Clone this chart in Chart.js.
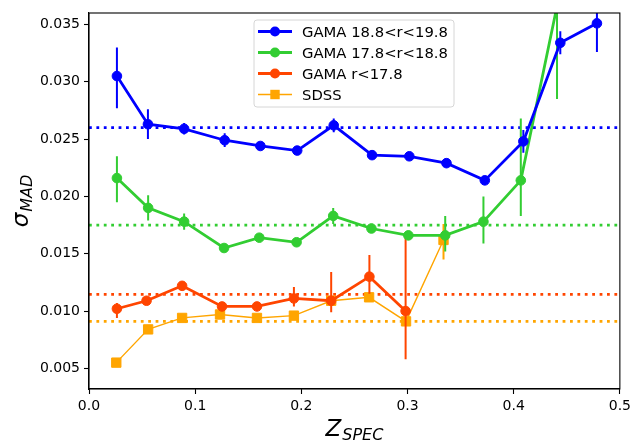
<!DOCTYPE html>
<html>
<head>
<meta charset="utf-8">
<script src="https://cdn.jsdelivr.net/npm/chart.js@4.4.0/dist/chart.umd.min.js"></script>
<style>
  html, body { margin: 0; padding: 0; background: #fff; }
</style>
</head>
<body>
<canvas id="chart" width="635" height="441"></canvas>
<script>
// Series names and colours
const seriesLabels = ['GAMA 18.8<r<19.8', 'GAMA 17.8<r<18.8', 'GAMA r<17.8', 'SDSS'];
const seriesColors = ['#0000ff', '#32cd32', '#ff4500', '#ffa500'];

// GAMA 18.8<r<19.8
const zFaint = [0.0263, 0.0555, 0.0896, 0.1278, 0.1614, 0.1961, 0.2305, 0.2666, 0.3017, 0.3367, 0.3728, 0.4091, 0.4439, 0.4784];
const sigFaint = [0.0305, 0.0263, 0.0259, 0.0249, 0.0244, 0.0240, 0.0262, 0.0236, 0.0235, 0.0229, 0.0214, 0.0248, 0.0334, 0.0351];
const loFaint = [0.0028, 0.0013, 0.0005, 0.0006, 0.0003, 0.0003, 0.0006, 0.0002, 0.0002, 0.0003, 0.0004, 0.0010, 0.0010, 0.0025];
const hiFaint = [0.0025, 0.0013, 0.0005, 0.0006, 0.0003, 0.0003, 0.0006, 0.0002, 0.0002, 0.0003, 0.0004, 0.0010, 0.0010, 0.0025];

// GAMA 17.8<r<18.8
const zMid = [0.0263, 0.0557, 0.0896, 0.1272, 0.1604, 0.1955, 0.2300, 0.2660, 0.3008, 0.3355, 0.3715, 0.4067, 0.4408];
const sigMid = [0.0216, 0.0190, 0.0178, 0.0155, 0.0164, 0.0160, 0.0183, 0.0172, 0.0166, 0.0166, 0.0178, 0.0214, 0.0366];
const loMid = [0.0021, 0.0011, 0.0007, 0.0003, 0.0003, 0.0002, 0.0007, 0.0004, 0.0004, 0.0014, 0.0019, 0.0031, 0.0081];
const hiMid = [0.0019, 0.0011, 0.0007, 0.0003, 0.0003, 0.0002, 0.0007, 0.0004, 0.0004, 0.0017, 0.0022, 0.0054, 0.0081];

// GAMA r<17.8
const zBright = [0.0263, 0.0542, 0.0877, 0.1253, 0.1582, 0.1930, 0.2281, 0.2641, 0.2982];
const sigBright = [0.0102, 0.0109, 0.0122, 0.0104, 0.0104, 0.0111, 0.0109, 0.0130, 0.0100];
const loBright = [0.0008, 0.0002, 0.0002, 0.0002, 0.0003, 0.0007, 0.0010, 0.0015, 0.0042];
const hiBright = [0.0005, 0.0002, 0.0002, 0.0002, 0.0003, 0.0010, 0.0025, 0.0019, 0.0065];

// SDSS
const zSdss = [0.0257, 0.0557, 0.0877, 0.1234, 0.1582, 0.1930, 0.2281, 0.2638, 0.2986, 0.3339];
const sigSdss = [0.0055, 0.0084, 0.0094, 0.0097, 0.0094, 0.0096, 0.0109, 0.0112, 0.0091, 0.0162];
const loSdss = [0, 0, 0, 0, 0, 0, 0, 0, 0, 0.0017];
const hiSdss = [0, 0, 0, 0, 0, 0, 0, 0, 0, 0.0014];

// Overall sigma_MAD of each sample (dotted horizontal lines)
const refLevels = [0.0260, 0.0175, 0.01145, 0.0091];

const xTicks = [0.0, 0.1, 0.2, 0.3, 0.4, 0.5];
const yTicks = [0.005, 0.010, 0.015, 0.020, 0.025, 0.030, 0.035];

const toPoints = (xs, ys) => xs.map((x, i) => ({ x: x, y: ys[i] }));

function seriesDataset(i, xs, ys, lo, hi, opts) {
    return Object.assign({
        label: seriesLabels[i],
        data: toPoints(xs, ys),
        borderColor: seriesColors[i],
        backgroundColor: seriesColors[i],
        pointBackgroundColor: seriesColors[i],
        pointBorderColor: seriesColors[i],
        pointBorderWidth: 1,
        borderWidth: 2.8,
        pointRadius: 4.8,
        pointStyle: 'circle',
        tension: 0,
        clip: 0,
        errLow: lo,
        errHigh: hi
    }, opts || {});
}

function refDataset(i) {
    return {
        label: 'ref' + i,
        data: [{ x: xTicks[0], y: refLevels[i] }, { x: xTicks[xTicks.length - 1], y: refLevels[i] }],
        borderColor: seriesColors[i],
        borderWidth: 2.8,
        borderDash: [2.8, 4.6],
        borderCapStyle: 'butt',
        pointRadius: 0,
        clip: 0
    };
}

// Vertical error bars, drawn just before each dataset so markers sit on top
const errorBars = {
    id: 'errorBars',
    beforeDatasetDraw(chart, args) {
        const ds = chart.data.datasets[args.index];
        if (!ds.errLow) return;
        const { ctx, chartArea } = chart;
        const xs = chart.scales.x, ys = chart.scales.y;
        ctx.save();
        ctx.beginPath();
        ctx.rect(chartArea.left, chartArea.top, chartArea.right - chartArea.left, chartArea.bottom - chartArea.top);
        ctx.clip();
        ctx.strokeStyle = ds.borderColor;
        ctx.lineWidth = 2;
        ds.data.forEach((p, i) => {
            const lo = ds.errLow[i], hi = ds.errHigh[i];
            if (!lo && !hi) return;
            const px = xs.getPixelForValue(p.x);
            ctx.beginPath();
            ctx.moveTo(px, ys.getPixelForValue(p.y - lo));
            ctx.lineTo(px, ys.getPixelForValue(p.y + hi));
            ctx.stroke();
        });
        ctx.restore();
    }
};

// Box frame on all four sides
const frame = {
    id: 'frame',
    afterDatasetsDraw(chart) {
        const { ctx, chartArea: a } = chart;
        ctx.save();
        ctx.strokeStyle = '#000';
        ctx.lineWidth = 1.1;
        ctx.strokeRect(a.left, a.top, a.right - a.left, a.bottom - a.top);
        ctx.restore();
    }
};

// Axis titles with subscripts
const mainFont = 'italic 23px "DejaVu Sans"';
const subFont = 'italic 16px "DejaVu Sans"';

function drawSub(ctx, main, sub, cx, baseY) {
    ctx.font = mainFont;
    const w1 = ctx.measureText(main).width;
    ctx.font = subFont;
    const w2 = ctx.measureText(sub).width;
    const x0 = cx - (w1 + w2 + 1) / 2;
    ctx.font = mainFont;
    ctx.fillText(main, x0, baseY);
    ctx.font = subFont;
    ctx.fillText(sub, x0 + w1 + 1, baseY + 3.5);
}

const axisTitles = {
    id: 'axisTitles',
    afterDraw(chart) {
        const { ctx, chartArea: a } = chart;
        ctx.save();
        ctx.fillStyle = '#000';
        ctx.textAlign = 'left';
        ctx.textBaseline = 'alphabetic';
        drawSub(ctx, 'Z', 'SPEC', (a.left + a.right) / 2, a.bottom + 47);
        ctx.translate(28, (a.top + a.bottom) / 2);
        ctx.rotate(-Math.PI / 2);
        drawSub(ctx, 'σ', 'MAD', 0, 0);
        ctx.restore();
    }
};

// Framed legend in the upper middle of the plot
const boxLegend = {
    id: 'boxLegend',
    afterDraw(chart) {
        const ctx = chart.ctx;
        const bx = 254, by = 20, bw = 200, bh = 87;
        ctx.save();
        ctx.beginPath();
        ctx.roundRect(bx, by, bw, bh, 3);
        ctx.fillStyle = 'rgba(255,255,255,0.8)';
        ctx.fill();
        ctx.strokeStyle = '#d6d6d6';
        ctx.lineWidth = 1;
        ctx.stroke();

        ctx.font = '14.8px "DejaVu Sans"';
        ctx.textBaseline = 'alphabetic';
        ctx.textAlign = 'left';
        seriesLabels.forEach((label, i) => {
            const ds = chart.data.datasets[i];
            const cy = 31.5 + i * 21;
            ctx.strokeStyle = ds.borderColor;
            ctx.lineWidth = ds.borderWidth;
            ctx.beginPath();
            ctx.moveTo(258, cy);
            ctx.lineTo(292, cy);
            ctx.stroke();
            ctx.fillStyle = ds.pointBackgroundColor;
            if (ds.pointStyle === 'rect') {
                ctx.fillRect(275 - 4.7, cy - 4.7, 9.4, 9.4);
            } else {
                ctx.beginPath();
                ctx.arc(275, cy, 5, 0, Math.PI * 2);
                ctx.fill();
            }
            ctx.fillStyle = '#000';
            ctx.fillText(label, 302, cy + 5.4);
        });
        ctx.restore();
    }
};

const tickFont = { family: 'DejaVu Sans', size: 14 };

new Chart(document.getElementById('chart'), {
    type: 'line',
    data: {
        datasets: [
            seriesDataset(0, zFaint, sigFaint, loFaint, hiFaint),
            seriesDataset(1, zMid, sigMid, loMid, hiMid),
            seriesDataset(2, zBright, sigBright, loBright, hiBright),
            seriesDataset(3, zSdss, sigSdss, loSdss, hiSdss, {
                borderWidth: 1.4,
                pointStyle: 'rect',
                pointRadius: 6.6
            }),
            refDataset(0),
            refDataset(1),
            refDataset(2),
            refDataset(3)
        ]
    },
    options: {
        responsive: false,
        animation: false,
        devicePixelRatio: 1,
        layout: { padding: { top: 13, right: 14, bottom: 0, left: 0 } },
        plugins: {
            legend: { display: false },
            tooltip: { enabled: false }
        },
        scales: {
            x: {
                type: 'linear',
                min: 0,
                max: 0.5,
                afterBuildTicks: s => { s.ticks = xTicks.map(v => ({ value: v })); },
                afterFit: s => { s.height = 52; },
                ticks: {
                    callback: v => v.toFixed(1),
                    font: tickFont,
                    color: '#000',
                    padding: 4,
                    maxRotation: 0,
                    autoSkip: false
                },
                grid: {
                    drawOnChartArea: false,
                    drawTicks: true,
                    tickLength: 5,
                    tickColor: '#000',
                    tickWidth: 1.1
                },
                border: { color: '#000', width: 1.1 }
            },
            y: {
                type: 'linear',
                min: 0.0032,
                max: 0.0360,
                afterBuildTicks: s => { s.ticks = yTicks.map(v => ({ value: v })); },
                afterFit: s => { s.width = 89; },
                ticks: {
                    callback: v => v.toFixed(3),
                    font: tickFont,
                    color: '#000',
                    padding: 4,
                    autoSkip: false
                },
                grid: {
                    drawOnChartArea: false,
                    drawTicks: true,
                    tickLength: 5,
                    tickColor: '#000',
                    tickWidth: 1.1
                },
                border: { color: '#000', width: 1.1 }
            }
        }
    },
    plugins: [errorBars, frame, axisTitles, boxLegend]
});
</script>
</body>
</html>
